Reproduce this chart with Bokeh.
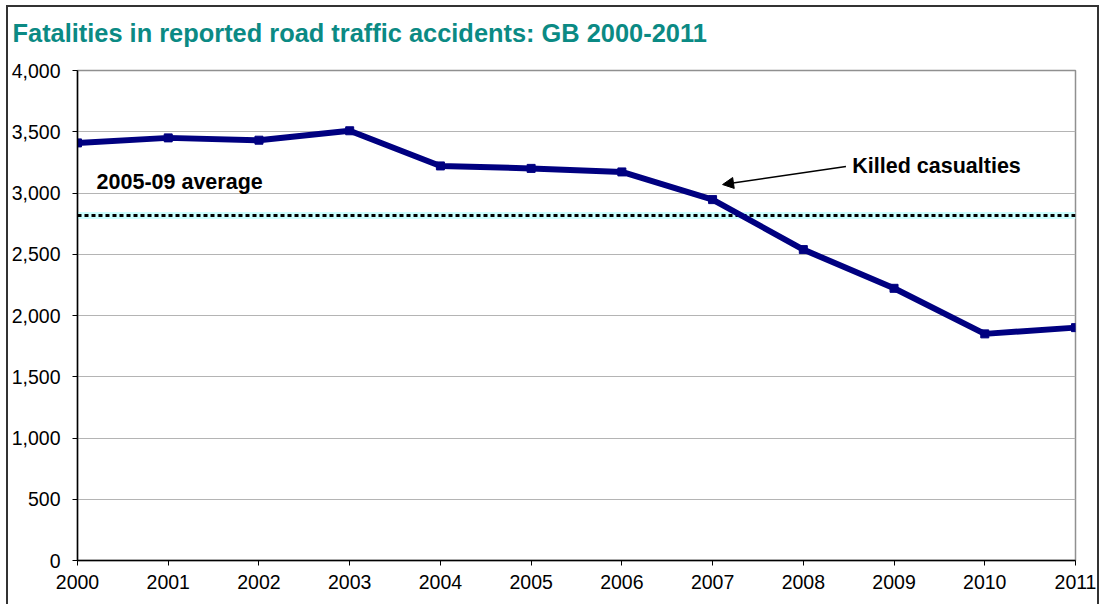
from bokeh.plotting import figure
from bokeh.models import Range1d, FixedTicker, NumeralTickFormatter, Label, Arrow, NormalHead, Title
from bokeh.embed import file_html
from bokeh.resources import INLINE

years = [2000, 2001, 2002, 2003, 2004, 2005, 2006, 2007, 2008, 2009, 2010, 2011]
killed = [3409, 3450, 3431, 3508, 3221, 3201, 3172, 2946, 2538, 2222, 1850, 1901]
avg_years = [2005, 2006, 2007, 2008, 2009]
avg_value = sum(k for y, k in zip(years, killed) if y in avg_years) / len(avg_years)
y_ticks = [0, 500, 1000, 1500, 2000, 2500, 3000, 3500, 4000]

title_text = "Fatalities in reported road traffic accidents: GB 2000-2011"
FONT = "Liberation Sans"

p = figure(width=1093, height=603, output_backend="svg", toolbar_location=None,
           x_range=Range1d(2000, 2011), y_range=Range1d(0, 4000),
           min_border_left=69, min_border_right=26, min_border_top=63, min_border_bottom=50)
p.styles = {"border": "2px solid #333333", "margin-left": "6px", "margin-top": "5px"}

p.title.text = title_text
p.title.text_font = FONT
p.title.text_font_size = "25.4px"
p.title.text_font_style = "bold"
p.title.text_color = "#0b8a84"
p.title.align = "left"
p.title.offset = -65
p.title.standoff = 12

# blank spacer panel between the title and the plot area
p.add_layout(Title(text=" ", text_font_size="10px", standoff=5), "above")

p.outline_line_color = "#909090"
p.outline_line_width = 1.5

p.xgrid.grid_line_color = None
p.ygrid.grid_line_color = "#b4b4b4"
p.ygrid.grid_line_width = 1

p.yaxis.ticker = FixedTicker(ticks=y_ticks)
p.yaxis.formatter = NumeralTickFormatter(format="0,0")
p.xaxis.ticker = FixedTicker(ticks=years)
for ax in (p.xaxis, p.yaxis):
    ax.axis_line_color = "black"
    ax.axis_line_width = 1.5
    ax.major_tick_line_color = "black"
    ax.major_tick_out = 5
    ax.major_tick_in = 0
    ax.minor_tick_line_color = None
    ax.major_label_text_font = FONT
    ax.major_label_text_font_size = "19.5px"
    ax.major_label_text_color = "black"
p.yaxis.major_label_standoff = 12
p.xaxis.major_label_standoff = 9

# 2005-09 average line
p.line([years[0], years[-1]], [avg_value, avg_value], line_color="#ccffff", line_width=7)
p.line([years[0], years[-1]], [avg_value, avg_value], line_color="black", line_width=3,
       line_dash="4 3")

# killed casualties line
p.line(years, killed, line_color="#000080", line_width=6, line_join="round")
p.scatter(years, killed, marker="square", size=8, fill_color="#000080", line_color="#000080")

p.add_layout(Label(x=2000.21, y=3086, text="2005-09 average", text_font=FONT,
                   text_font_size="21.5px", text_font_style="bold", text_baseline="middle",
                   text_color="black"))
p.add_layout(Label(x=2008.54, y=3224, text="Killed casualties", text_font=FONT,
                   text_font_size="21.5px", text_font_style="bold", text_baseline="middle",
                   text_color="black"))
p.add_layout(Arrow(x_start=2008.47, y_start=3216, x_end=2007.11, y_end=3069,
                   line_color="black", line_width=1.5,
                   end=NormalHead(size=11, fill_color="black", line_color="black")))

open("out.html", "w").write(file_html(p, INLINE))
